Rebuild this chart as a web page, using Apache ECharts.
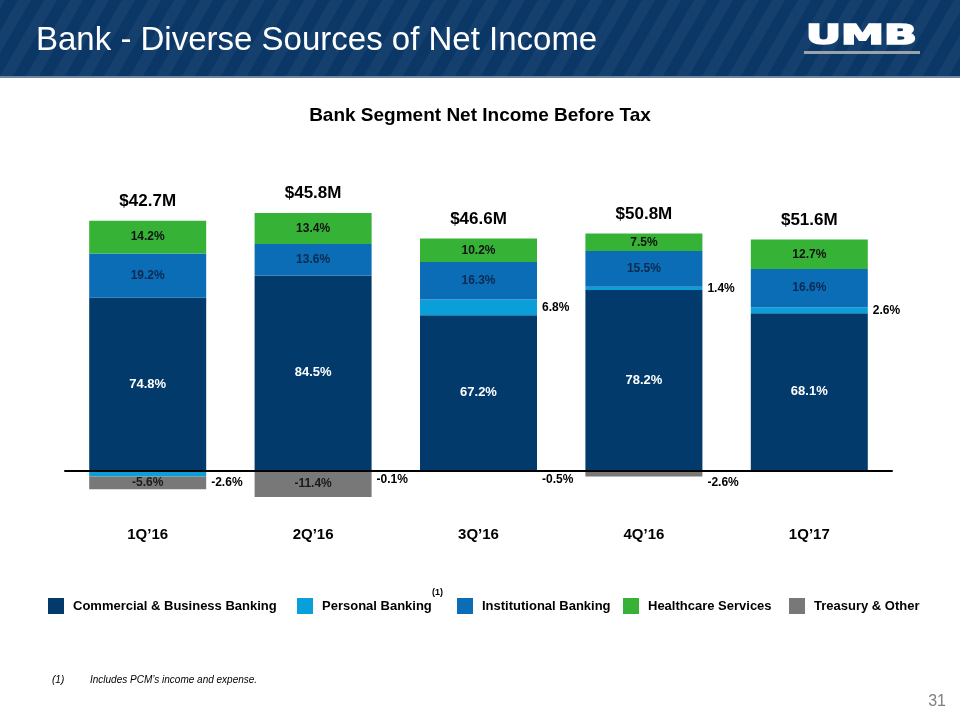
<!DOCTYPE html>
<html><head><meta charset="utf-8">
<script src="https://cdn.jsdelivr.net/npm/echarts@6/dist/echarts.min.js"></script>
<style>html,body{margin:0;padding:0;background:#fff}#c{width:960px;height:720px}</style>
</head><body><div id="c"></div>
<script>
const quarters = ['1Q’16','2Q’16','3Q’16','4Q’16','1Q’17'];
const totals = ['$42.7M','$45.8M','$46.6M','$50.8M','$51.6M'];
const commercial = [74.8, 84.5, 67.2, 78.2, 68.1];
const personal = [-2.6, -0.1, 6.8, 1.4, 2.6];
const institutional = [19.2, 13.6, 16.3, 15.5, 16.6];
const healthcare = [14.2, 13.4, 10.2, 7.5, 12.7];
const treasury = [-5.6, -11.4, -0.5, -2.6, 0];
const seriesNames = ['Commercial & Business Banking','Personal Banking','Institutional Banking','Healthcare Services','Treasury & Other'];

const FONT = '"Liberation Sans", Arial, Helvetica, sans-serif';
const colors = ['#023a6b','#0a9fd9','#0a6db6','#36b337','#787878'];
const labelColors = ['#ffffff','#000000','#0c2a50','#111111','#1a1a1a'];
const seriesData = [commercial, personal, institutional, healthcare, treasury];

function fmt(v){ return v.toFixed(1) + '%'; }

const chart = echarts.init(document.getElementById('c'), null, {renderer:'canvas'});

const barSeries = seriesNames.map((name, si) => ({
  name, type:'bar', stack:'s', barWidth:117,
  itemStyle:{color:colors[si]},
  data: seriesData[si].map((v) => {
    const outside = (si === 1) || (si === 4 && Math.abs(v) < 5);
    const item = {value:v};
    if (v === 0) { item.label = {show:false}; return item; }
    item.label = {
      show:true,
      position: outside ? 'right' : 'inside',
      distance: 5,
      offset: (outside && v < 0) ? [0, 9] : [0, 0],
      color: outside ? '#000' : labelColors[si],
      fontFamily: FONT, fontWeight:'bold',
      fontSize: si === 0 ? 13 : 12,
      formatter: () => fmt(v)
    };
    return item;
  })
}));

const posTotals = quarters.map((q, i) => seriesData.reduce((s, arr) => s + (arr[i] > 0 ? arr[i] : 0), 0));

const stripes = [];
for (let i = -4; i < 44; i++) {
  const x0 = i * 26;
  stripes.push({type:'polygon', silent:true, shape:{points:[[x0,76],[x0+13,76],[x0+13+44,0],[x0+44,0]]},
    style:{fill:'rgba(255,255,255,0.045)'}});
}

const legendLefts = [43, 292, 452, 618, 784];

const option = {
  backgroundColor:'#fff',
  animation:false,
  title:{text:'Bank Segment Net Income Before Tax', left:'center', top:101,
    textStyle:{fontFamily:FONT, fontWeight:'bold', fontSize:19, color:'#000'}},
  legend: seriesNames.map((n, i) => ({
    data:[n], left:legendLefts[i], top:593, icon:'rect', itemWidth:16, itemHeight:16,
    selectedMode:false,
    textStyle:{fontFamily:FONT, fontWeight:'bold', fontSize:13, color:'#000', padding:[0,0,0,4]}
  })),
  grid:{left:65, right:68, top:205, bottom:215},
  xAxis:{type:'category', data:quarters, z:5,
    axisLine:{onZero:true, lineStyle:{color:'#000', width:2}},
    axisTick:{show:false},
    axisLabel:{margin:22, fontFamily:FONT, fontWeight:'bold', fontSize:15, color:'#000'}},
  yAxis:{type:'value', min:-15, max:115, show:false, splitLine:{show:false}},
  series: barSeries.concat([{
    type:'scatter', name:'totals', data:posTotals, symbolSize:0, silent:true, z:10,
    itemStyle:{opacity:1},
    label:{show:true, position:'top', distance:11, fontFamily:FONT, fontWeight:'bold', fontSize:17, color:'#000', opacity:1,
      formatter:(p) => totals[p.dataIndex]}
  }]),
  graphic:[
    {type:'rect', shape:{x:0,y:0,width:960,height:76}, style:{fill:'#0b3767'}, silent:true, z:-10},
    {type:'group', z:-9, children:stripes},
    {type:'rect', shape:{x:0,y:76,width:960,height:2}, style:{fill:'#6d86a6'}, silent:true},
    {type:'text', left:36, top:24, style:{text:'Bank - Diverse Sources of Net Income', fill:'#fff',
      font:'33px ' + FONT}, z:5},
    {type:'text', x:806, y:24, scaleX:1.66, style:{text:'UMB', fill:'#fff', stroke:'#fff', lineWidth:1.6,
      font:'bold 26px "DejaVu Sans", ' + FONT}, z:5},
    {type:'rect', shape:{x:804,y:51,width:116,height:3}, style:{fill:'#9aa3ad'}, z:5},
    {type:'text', left:432, top:588, style:{text:'(1)', fill:'#000', font:'bold 9px ' + FONT}},
    {type:'text', left:52, top:675, style:{text:'(1)', fill:'#000', font:'italic 10px ' + FONT}},
    {type:'text', left:90, top:675, style:{text:'Includes PCM’s income and expense.', fill:'#000', font:'italic 10px ' + FONT}},
    {type:'text', right:14, top:694, style:{text:'31', fill:'#808080', font:'16px ' + FONT}}
  ]
};
chart.setOption(option);
</script></body></html>
